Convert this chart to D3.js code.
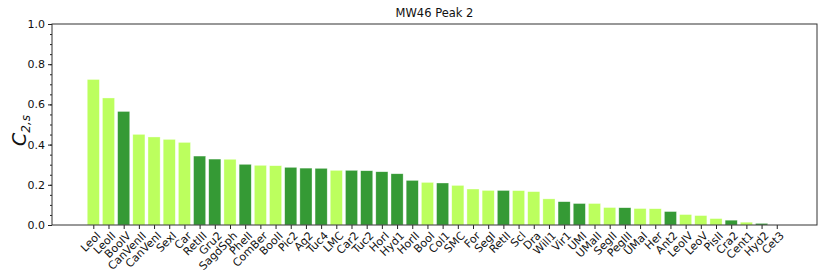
<!DOCTYPE html>
<meta charset="utf-8">
<script src="https://d3js.org/d3.v7.min.js"></script>
<style>
  body { margin: 0; background: #fff; }
  text { font-family: "DejaVu Sans", sans-serif; }
</style>
<div id="my_dataviz"></div>
<script>

// data
var names = ["LeoI","LeoII","BooIV","CanVenII","CanVenI","SexI","Car","RetIII","Gru2","SagdSph",
  "PheII","ComBer","BooII","Pic2","Aq2","Tuc4","LMC","Car2","Tuc2","HorI",
  "Hyd1","HorII","BooI","Col1","SMC","For","SegI","RetII","Scl","Dra",
  "Will1","Vir1","UMI","UMaII","SegII","PegIII","UMaI","Her","Ant2","LeoIV",
  "LeoV","PisII","Cra2","Cent1","Hyd2","Cet3"];
var values = [0.724,0.632,0.565,0.451,0.438,0.426,0.411,0.343,0.328,0.327,
  0.302,0.297,0.295,0.287,0.283,0.282,0.272,0.272,0.270,0.265,
  0.255,0.222,0.212,0.209,0.197,0.179,0.172,0.172,0.171,0.166,
  0.130,0.116,0.107,0.107,0.087,0.086,0.082,0.081,0.067,0.052,
  0.047,0.032,0.024,0.014,0.008,0.0];
// 1 = dark green group, 0 = light green group
var group = [0,0,1,0,0,0,0,1,1,0,
  1,0,0,1,1,1,0,1,1,1,
  1,1,0,1,0,0,0,1,0,0,
  0,1,1,0,0,1,0,0,1,0,
  0,0,1,0,1,0];
var yTicks = [0, 0.2, 0.4, 0.6, 0.8, 1.0];
var title = "MW46 Peak 2";

var colors = ["#bcff5e", "#359a35"];

var margin = {top: 24, right: 13, bottom: 52, left: 52},
    width = 830 - margin.left - margin.right,
    height = 277 - margin.top - margin.bottom;

var svg = d3.select("#my_dataviz")
  .append("svg")
    .attr("width", 830)
    .attr("height", 277)
  .append("g")
    .attr("transform", "translate(" + margin.left + "," + margin.top + ")");

// x is a linear index scale, like matplotlib's bar positions
var x = d3.scaleLinear()
  .domain([-2.72, names.length - 1 + 2.65])
  .range([0, width]);
var y = d3.scaleLinear()
  .domain([0, 1])
  .range([height, 0]);
var barW = x(0.8) - x(0);

// bars
svg.selectAll(".bar")
  .data(values)
  .enter()
  .append("rect")
    .attr("class", "bar")
    .attr("x", function(d, i) { return x(i) - barW / 2; })
    .attr("y", function(d) { return y(d); })
    .attr("width", barW)
    .attr("height", function(d) { return y(0) - y(d); })
    .attr("fill", function(d, i) { return colors[group[i]]; })
    .attr("stroke", "#ffffff")
    .attr("stroke-opacity", 0.6)
    .attr("stroke-width", 0.6);

// Y axis major + minor ticks
svg.append("g")
  .call(d3.axisLeft(y).tickValues(d3.range(0, 1.0001, 0.05)).tickSize(2).tickFormat(""))
  .call(function(g) { g.select(".domain").remove(); g.selectAll("line").attr("stroke", "#222"); });
var yAxis = svg.append("g")
  .call(d3.axisLeft(y).tickValues(yTicks).tickSize(4).tickPadding(3).tickFormat(d3.format(".1f")));
yAxis.select(".domain").remove();
yAxis.selectAll("text").attr("font-size", 11).attr("fill", "#111");
yAxis.selectAll("line").attr("stroke", "#222");

// X axis
var xAxis = svg.append("g")
  .attr("transform", "translate(0," + height + ")")
  .call(d3.axisBottom(x).tickValues(d3.range(names.length)).tickSize(4)
    .tickFormat(function(i) { return names[i]; }));
xAxis.select(".domain").remove();
xAxis.selectAll("line").attr("stroke", "#222");
xAxis.selectAll("text")
  .attr("font-size", 11)
  .attr("fill", "#111")
  .attr("text-anchor", "end")
  .attr("dy", "0.7em")
  .attr("transform", "translate(-3,1) rotate(-45)");

// frame
svg.append("rect")
  .attr("x", 0).attr("y", 0)
  .attr("width", width).attr("height", height)
  .attr("fill", "none")
  .attr("stroke", "#333")
  .attr("stroke-width", 1);

// title
svg.append("text")
  .attr("x", width / 2)
  .attr("y", -7)
  .attr("text-anchor", "middle")
  .attr("font-size", 11.5)
  .attr("fill", "#111")
  .text(title);

// y label C_{2,s}
var yl = svg.append("text")
  .attr("transform", "translate(" + (-26) + "," + (y(0.5) + 6) + ") rotate(-90)")
  .attr("text-anchor", "middle")
  .attr("fill", "#111");
yl.append("tspan").attr("font-size", 19).attr("font-style", "italic").text("C");
yl.append("tspan").attr("font-size", 12).attr("font-style", "italic").attr("dy", 4).text("2,s");

</script>
